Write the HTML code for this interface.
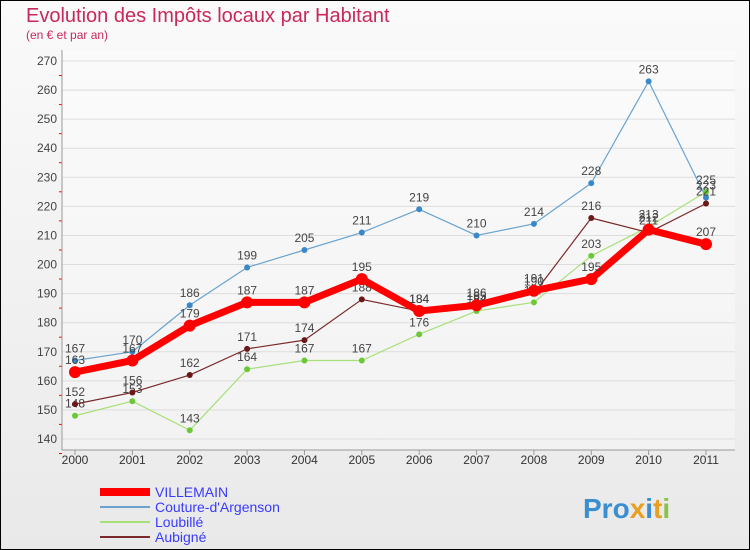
<!DOCTYPE html>
<html><head><meta charset="utf-8"><style>
body{margin:0;background:#fff}
svg{display:block;font-family:"Liberation Sans","DejaVu Sans",sans-serif}
</style></head><body>
<svg width="750" height="550" viewBox="0 0 750 550">
<defs><linearGradient id="bg" x1="0" y1="0" x2="0" y2="1"><stop offset="0" stop-color="#fafafa"/><stop offset="1" stop-color="#e9e9e9"/></linearGradient></defs>
<rect x="0.5" y="0.5" width="749" height="549" fill="url(#bg)" stroke="#000"/>
<text x="26" y="22" font-size="20" fill="#c8285a">Evolution des Impôts locaux par Habitant</text>
<text x="26" y="39" font-size="12" fill="#c8285a">(en € et par an)</text>
<g id="axes"></g>
<g id="series"></g>
<g id="legend"></g>
<text x="583" y="518" font-size="28" font-weight="bold" fill="#f0a020"><tspan fill="#3a8fd0">Pro</tspan><tspan fill="#e8a020">x</tspan><tspan fill="#3a8fd0">i</tspan><tspan fill="#e8a020">t</tspan><tspan fill="#8bc34a">i</tspan></text>
</svg>
<script>
const years=["2000","2001","2002","2003","2004","2005","2006","2007","2008","2009","2010","2011"];
const yTicks=[140,150,160,170,180,190,200,210,220,230,240,250,260,270];
const villemain=[163,167,179,187,187,195,184,186,191,195,212,207];
const couture=[167,170,186,199,205,211,219,210,214,228,263,223];
const loubille=[148,153,143,164,167,167,176,184,187,203,213,225];
const aubigne=[152,156,162,171,174,188,184,185,190,216,211,221];
const NS="http://www.w3.org/2000/svg";
function X(i){return 75+i*(706-75)/11;}
function Y(v){return 439-(v-140)*(439-61)/130;}
function mk(t,a,p){const e=document.createElementNS(NS,t);for(const k in a)e.setAttribute(k,a[k]);p.appendChild(e);return e;}
const ax=document.getElementById('axes');
mk('rect',{x:62,y:50,width:673,height:400,fill:'#fff',opacity:0.35},ax);
yTicks.forEach(v=>{
 const l=mk('line',{x1:62,x2:735,y1:Y(v),y2:Y(v),stroke:'#ddd','stroke-width':1},ax);
 
 
 const t=mk('text',{x:57,y:Y(v)+4,'font-size':12,fill:'#444','text-anchor':'end'},ax);t.textContent=v;
 
 
 mk('line',{x1:59,x2:62,y1:Y(v)+14.5,y2:Y(v)+14.5,stroke:'#f00'},ax);
});
mk('line',{x1:62,x2:62,y1:50,y2:450,stroke:'#999'},ax);
mk('line',{x1:62,x2:735,y1:450,y2:450,stroke:'#999'},ax);
years.forEach((y,i)=>{
 mk('line',{x1:X(i),x2:X(i),y1:450,y2:455,stroke:'#999'},ax);
 const t=mk('text',{x:X(i),y:464,'font-size':12,fill:'#333','text-anchor':'middle'},ax);t.textContent=y;
 
 
});
const sg=document.getElementById('series');
function draw(vals,color,w,r,dot,name){
 const g=mk('g',{},sg);
 
 
 mk('polyline',{points:vals.map((v,i)=>X(i)+','+Y(v)).join(' '),fill:'none',stroke:color,'stroke-width':w,'stroke-linejoin':'round'},g);
 vals.forEach((v,i)=>{
  const c=mk('circle',{cx:X(i),cy:Y(v),r:r,fill:dot},g);
  
  
  const t=mk('text',{x:X(i),y:Y(v)-8,'font-size':12,fill:'#444','text-anchor':'middle'},g);t.textContent=v;
 });
}
draw(couture,'#6aa3d0',1.2,3,'#3a88c8','couture');
draw(loubille,'#a8e078',1.2,3,'#6cc838','loubille');
draw(aubigne,'#7a2a2a',1.2,3,'#6a1818','aubigne');
draw(villemain,'#ff0000',7,6,'#ff0000','villemain');
const lg=document.getElementById('legend');
[["VILLEMAIN","#ff0000",8],["Couture-d'Argenson","#6aa3d0",2],["Loubillé","#a8e078",2],["Aubigné","#7a2a2a",2]].forEach((d,i)=>{
 const y=492+i*15;
 mk('line',{x1:100,x2:150,y1:y,y2:y,stroke:d[1],'stroke-width':d[2]},lg);
 const t=mk('text',{x:155,y:y+5,'font-size':14,fill:'#3a3aff'},lg);t.textContent=d[0];
 
 
});
</script>
</body></html>
